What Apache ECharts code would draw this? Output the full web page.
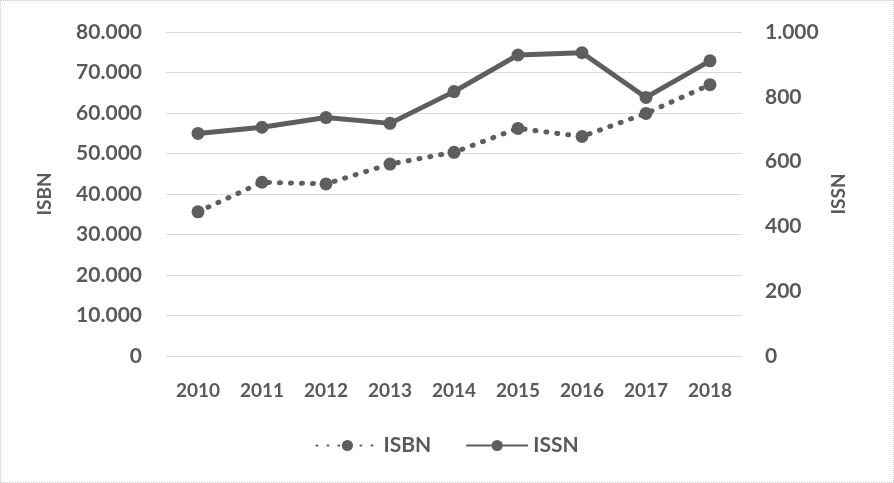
<!DOCTYPE html>
<html>
<head>
<meta charset="utf-8">
<script src="https://cdn.jsdelivr.net/npm/echarts@6/dist/echarts.min.js"></script>
<style>
  html, body { margin: 0; padding: 0; background: #fff; }
  #myChart { width: 894px; height: 483px; box-sizing: border-box; border: 1px dotted #c8c8c8; }
</style>
</head>
<body>
<div id="myChart"></div>
<script>
// 数据
var years = ['2010', '2011', '2012', '2013', '2014', '2015', '2016', '2017', '2018'];
var isbnData = [35600, 42900, 42500, 47400, 50300, 56200, 54200, 59900, 67000];
var issnData = [687, 706, 736, 718, 816, 929, 936, 798, 911];

var textColor = '#595959';
var lineColor = '#5e5e5e';
var fontFamily = 'Lato, "Open Sans", sans-serif';

// 千位分隔用点号
function fmtDot(v) {
  return String(v).replace(/\B(?=(\d{3})+(?!\d))/g, '.');
}

var chart = echarts.init(document.getElementById('myChart'));
chart.setOption({
  animation: false,
  grid: {
    left: 165,
    right: 151,
    top: 31,
    bottom: 126,
  },
  legend: {
    bottom: 21,
    left: 'center',
    itemWidth: 62,
    itemHeight: 14,
    itemGap: 34,
    textStyle: {
      color: textColor,
      fontSize: 21,
      fontWeight: 'bold',
      fontFamily: fontFamily,
    },
    data: ['ISBN', 'ISSN'],
  },
  xAxis: {
    type: 'category',
    data: years,
    boundaryGap: true,
    axisLine: { show: false },
    axisTick: { show: false },
    axisLabel: {
      color: textColor,
      fontSize: 19,
      fontWeight: 'bold',
      fontFamily: fontFamily,
      margin: 25,
    },
  },
  yAxis: [
    {
      type: 'value',
      name: 'ISBN',
      nameLocation: 'middle',
      nameRotate: 90,
      nameGap: 112,
      nameTextStyle: {
        color: textColor,
        fontSize: 19,
        fontWeight: 'bold',
        fontFamily: fontFamily,
      },
      min: 0,
      max: 80000,
      interval: 10000,
      axisLine: { show: false },
      axisTick: { show: false },
      axisLabel: {
        color: textColor,
        fontSize: 21,
        fontWeight: 'bold',
        fontFamily: fontFamily,
        margin: 24,
        formatter: fmtDot,
      },
      splitLine: {
        show: true,
        lineStyle: { color: '#d9d9d9', width: 1 },
      },
    },
    {
      type: 'value',
      name: 'ISSN',
      nameLocation: 'middle',
      nameRotate: 90,
      nameGap: 86,
      nameTextStyle: {
        color: textColor,
        fontSize: 19,
        fontWeight: 'bold',
        fontFamily: fontFamily,
      },
      min: 0,
      max: 1000,
      interval: 200,
      axisLine: { show: false },
      axisTick: { show: false },
      axisLabel: {
        color: textColor,
        fontSize: 21,
        fontWeight: 'bold',
        fontFamily: fontFamily,
        margin: 23,
        formatter: fmtDot,
      },
      splitLine: { show: false },
    },
  ],
  series: [
    {
      name: 'ISBN',
      type: 'line',
      yAxisIndex: 0,
      data: isbnData,
      symbol: 'circle',
      symbolSize: 13,
      itemStyle: { color: lineColor },
      lineStyle: {
        color: lineColor,
        width: 5,
        type: [1, 10],
        cap: 'round',
      },
    },
    {
      name: 'ISSN',
      type: 'line',
      yAxisIndex: 1,
      data: issnData,
      symbol: 'circle',
      symbolSize: 13,
      itemStyle: { color: lineColor },
      lineStyle: {
        color: lineColor,
        width: 5,
      },
    },
  ],
});
</script>
</body>
</html>
